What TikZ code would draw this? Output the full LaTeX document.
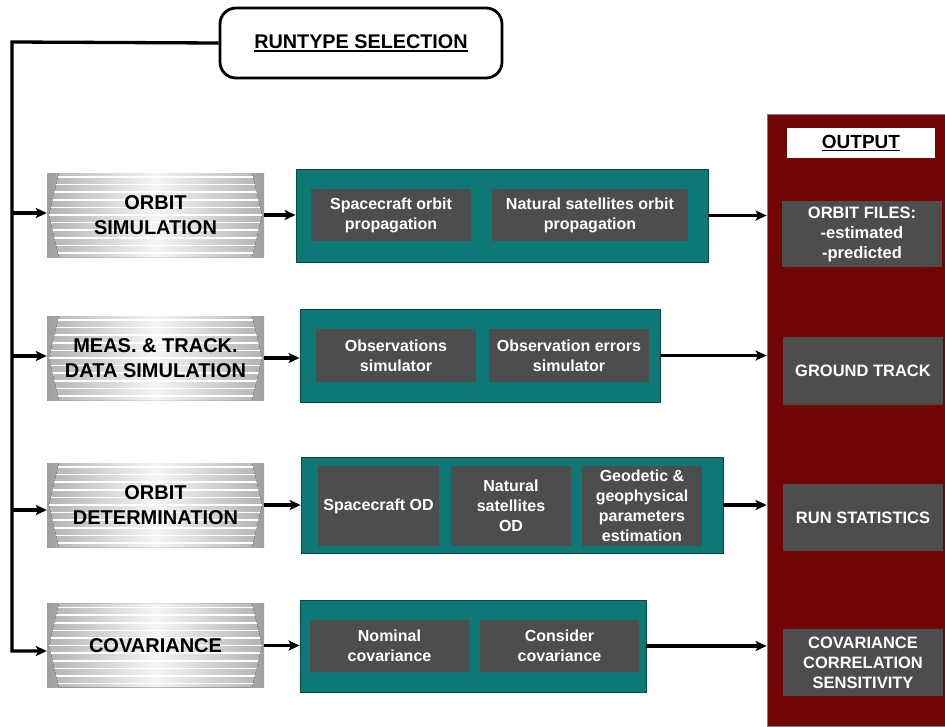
\documentclass[tikz,border=0pt]{standalone}
\usepackage{fontspec}
\setmainfont{Liberation Sans}
\usetikzlibrary{arrows.meta}

\definecolor{tealpanel}{RGB}{13,120,118}
\definecolor{tealedge}{RGB}{8,72,70}
\definecolor{cellgray}{RGB}{77,77,77}
\definecolor{outred}{RGB}{115,4,4}

% bold text with a thick underline
\newcommand{\thickul}[1]{\setbox0\hbox{#1}\rlap{\rule[-3.2pt]{\wd0}{1.7pt}}\box0}

% striped, chevron-edged phase block: name, centre x, centre y, label
\newcommand{\phasebox}[4]{%
  \begin{scope}[shift={(#2,#3)}]
    \fill[left color=gray!75, right color=gray!75, middle color=gray!30] (-108.5,-42) rectangle (108.5,42);
    \begin{scope}
      \clip (-96.5,-42) -- (-106.5,0) -- (-96.5,42) -- (96.5,42) -- (106.5,0) -- (96.5,-42) -- cycle;
      \fill[left color=gray!60, right color=gray!60, middle color=gray!8] (-108.5,-42) rectangle (108.5,42);
      \foreach \k in {0,...,10} \draw[white, line width=1.6pt] (-110,-38+7.6*\k) -- (110,-38+7.6*\k);
    \end{scope}
  \end{scope}
  \node[phase] (#1) at (#2,#3) {#4};
}

\tikzset{
  conn/.style={line width=3.3pt, line join=miter, -{Stealth[length=11pt,width=10pt,inset=2.5pt]}},
  phase/.style={minimum width=217pt, minimum height=84pt, inner sep=0pt,
    font=\fontsize{20}{25}\selectfont\bfseries, align=center},
  panel/.style={fill=tealpanel, draw=tealedge, line width=0.8pt, inner sep=0pt},
  cell/.style={fill=cellgray, text=white, inner sep=0pt, align=center,
    font=\fontsize{16}{20}\selectfont\bfseries},
  outcell/.style={fill=cellgray, text=white, inner sep=0pt, align=center,
    minimum width=160pt, font=\fontsize{16.5}{20}\selectfont\bfseries},
}

\begin{document}
\begin{tikzpicture}[x=1pt, y=-1pt]
\useasboundingbox (0,0) rectangle (945,726);
\fill[white] (0,0) rectangle (945,726);

% run type selector
\node[draw, line width=2.8pt, rounded corners=16pt, minimum width=282pt, minimum height=70pt,
      inner sep=0pt, font=\fontsize{19.8}{24}\selectfont\bfseries]
  (run) at (361,43) {\thickul{RUNTYPE SELECTION}};

% phase blocks
\phasebox{sim}{155.5}{215}{ORBIT\\SIMULATION}
\phasebox{meas}{155.5}{358}{MEAS. \& TRACK.\\DATA SIMULATION}
\phasebox{det}{155.5}{505}{ORBIT\\DETERMINATION}
\phasebox{cov}{155.5}{645.5}{COVARIANCE}

% processing panels
\node[panel, minimum width=412pt, minimum height=93pt] (p1) at (502,215.5) {};
\node[cell, minimum width=160pt, minimum height=52pt] (p1a) at (391,215) {Spacecraft orbit\\propagation};
\node[cell, minimum width=196pt, minimum height=52pt] (p1b) at (590,215) {Natural satellites orbit\\propagation};

\node[panel, minimum width=360pt, minimum height=93pt] (p2) at (480,355.5) {};
\node[cell, minimum width=160pt, minimum height=53pt] (p2a) at (396,355.5) {Observations\\simulator};
\node[cell, minimum width=160pt, minimum height=53pt] (p2b) at (569,355.5) {Observation errors\\simulator};

\node[panel, minimum width=422pt, minimum height=96pt] (p3) at (512,505) {};
\node[cell, minimum width=121pt, minimum height=80pt] (p3a) at (378.5,506) {Spacecraft OD};
\node[cell, minimum width=120pt, minimum height=80pt] (p3b) at (511,506) {Natural\\satellites\\OD};
\node[cell, minimum width=120pt, minimum height=80pt] (p3c) at (642,506) {Geodetic \&\\geophysical\\parameters\\estimation};

\node[panel, minimum width=346pt, minimum height=92pt] (p4) at (473,646) {};
\node[cell, minimum width=159pt, minimum height=52pt] (p4a) at (389.5,646) {Nominal\\covariance};
\node[cell, minimum width=159pt, minimum height=52pt] (p4b) at (559.5,646) {Consider\\covariance};

% output column
\node[fill=outred, draw=gray, line width=0.8pt, minimum width=178pt, minimum height=612pt, inner sep=0pt]
  (out) at (856,420) {};
\node[fill=white, minimum width=148pt, minimum height=30pt, inner sep=0pt,
      font=\fontsize{19}{24}\selectfont\bfseries] (outtitle) at (861,143) {\thickul{OUTPUT}};
\node[outcell, minimum height=66pt] (o1) at (862,234) {ORBIT FILES:\\-estimated\\-predicted};
\node[outcell, minimum height=68pt] (o2) at (863,371) {GROUND TRACK};
\node[outcell, minimum height=67pt] (o3) at (863,517.5) {RUN STATISTICS};
\node[outcell, minimum height=67pt] (o4) at (863,662.5) {COVARIANCE\\CORRELATION\\SENSITIVITY};

% selector bus and branches
\coordinate (bt) at (12,42);
\coordinate (j1) at (12,213);
\coordinate (j2) at (12,356);
\coordinate (j3) at (12,510);
\coordinate (j4) at (12,651);
\draw[conn] (run.west) -- (bt) -- (j4) -- (j4 -| cov.west);
\draw[conn] (j1) -- (j1 -| sim.west);
\draw[conn] (j2) -- (j2 -| meas.west);
\draw[conn] (j3) -- (j3 -| det.west);

% phase blocks to panels
\draw[conn] (sim.east) -- (sim.east -| p1.west);
\draw[conn] (meas.east) -- (meas.east -| p2.west);
\draw[conn] (det.east) -- (det.east -| p3.west);
\draw[conn] (cov.east) -- (cov.east -| p4.west);

% panels to output
\draw[conn] (p1.east) -- (p1.east -| out.west);
\draw[conn] (p2.east) -- (p2.east -| out.west);
\draw[conn] (p3.east) -- (p3.east -| out.west);
\draw[conn] (p4.east) -- (p4.east -| out.west);
\end{tikzpicture}
\end{document}
